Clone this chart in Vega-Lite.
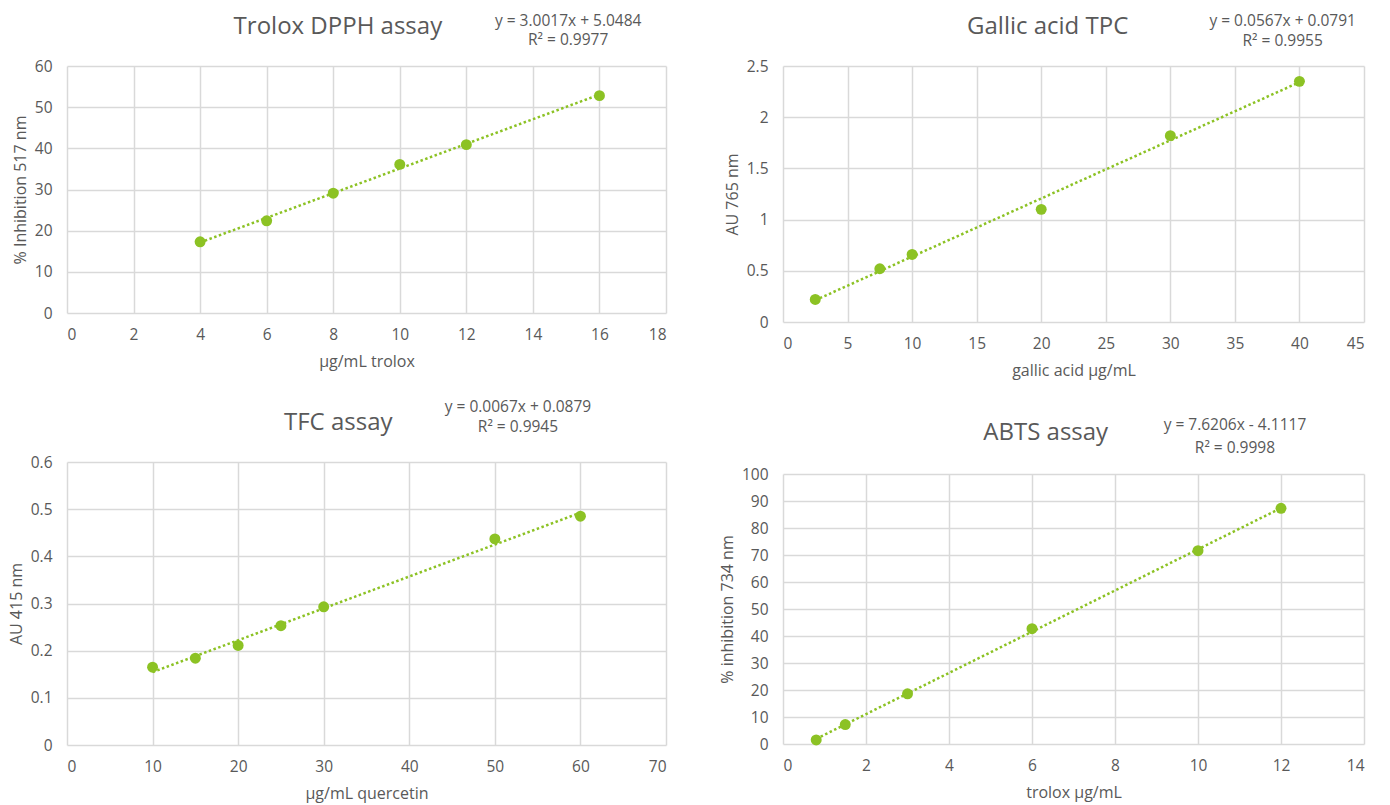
{
  "$schema": "https://vega.github.io/schema/vega-lite/v6.json",
  "background": "white",
  "padding": {"left": 8, "top": 13, "right": 5, "bottom": 5},
  "spacing": 53,
  "hconcat": [
    {
      "bounds": "flush",
      "spacing": 149,
      "vconcat": [
        {
          "width": 599, "height": 247,
          "data": {"values": [
            {"x": 4, "y": 17.3}, {"x": 6, "y": 22.4}, {"x": 8, "y": 29.1},
            {"x": 10, "y": 36.1}, {"x": 12, "y": 40.9}, {"x": 16, "y": 52.8}
          ]},
          "encoding": {
            "x": {"field": "x", "type": "quantitative", "scale": {"domain": [0, 18], "nice": false},
                  "axis": {"title": "µg/mL trolox", "values": [0,2,4,6,8,10,12,14,16,18]}},
            "y": {"field": "y", "type": "quantitative", "scale": {"domain": [0, 60], "nice": false},
                  "axis": {"title": "% Inhibition  517 nm", "values": [0,10,20,30,40,50,60]}}
          },
          "layer": [
            {"transform": [{"regression": "y", "on": "x"}],
             "mark": {"type": "line", "color": "#8CC224", "strokeWidth": 2.5, "strokeDash": [2.5, 2.5]}},
            {"mark": {"type": "point", "filled": true, "size": 120, "color": "#8CC224", "opacity": 1}},
            {"mark": {"type": "text", "fontSize": 24, "color": "#595959", "baseline": "middle"},
             "encoding": {"x": {"datum": 8.14, "type": "quantitative"}, "y": {"datum": 69.4, "type": "quantitative"},
                          "text": {"condition": {"test": "datum.x === 4", "value": "Trolox DPPH assay"}, "value": ""}}},
            {"mark": {"type": "text", "fontSize": 15.5, "color": "#595959", "baseline": "middle"},
             "encoding": {"x": {"datum": 15.06, "type": "quantitative"}, "y": {"datum": 71.0, "type": "quantitative"},
                          "text": {"condition": {"test": "datum.x === 4", "value": "y = 3.0017x + 5.0484"}, "value": ""}}},
            {"mark": {"type": "text", "fontSize": 15.5, "color": "#595959", "baseline": "middle"},
             "encoding": {"x": {"datum": 15.06, "type": "quantitative"}, "y": {"datum": 66.2, "type": "quantitative"},
                          "text": {"condition": {"test": "datum.x === 4", "value": "R² = 0.9977"}, "value": ""}}}
          ]
        },
        {
          "width": 599, "height": 283,
          "data": {"values": [
            {"x": 10, "y": 0.165}, {"x": 15, "y": 0.184}, {"x": 20, "y": 0.211},
            {"x": 25, "y": 0.253}, {"x": 30, "y": 0.293}, {"x": 50, "y": 0.437}, {"x": 60, "y": 0.485}
          ]},
          "encoding": {
            "x": {"field": "x", "type": "quantitative", "scale": {"domain": [0, 70], "nice": false},
                  "axis": {"title": "µg/mL quercetin", "values": [0,10,20,30,40,50,60,70]}},
            "y": {"field": "y", "type": "quantitative", "scale": {"domain": [0, 0.6], "nice": false},
                  "axis": {"title": "AU 415 nm", "values": [0,0.1,0.2,0.3,0.4,0.5,0.6]}}
          },
          "layer": [
            {"transform": [{"regression": "y", "on": "x"}],
             "mark": {"type": "line", "color": "#8CC224", "strokeWidth": 2.5, "strokeDash": [2.5, 2.5]}},
            {"mark": {"type": "point", "filled": true, "size": 120, "color": "#8CC224", "opacity": 1}},
            {"mark": {"type": "text", "fontSize": 24, "color": "#595959", "baseline": "middle"},
             "encoding": {"x": {"datum": 31.7, "type": "quantitative"}, "y": {"datum": 0.683, "type": "quantitative"},
                          "text": {"condition": {"test": "datum.x === 10", "value": "TFC assay"}, "value": ""}}},
            {"mark": {"type": "text", "fontSize": 15.5, "color": "#595959", "baseline": "middle"},
             "encoding": {"x": {"datum": 52.7, "type": "quantitative"}, "y": {"datum": 0.7165, "type": "quantitative"},
                          "text": {"condition": {"test": "datum.x === 10", "value": "y = 0.0067x + 0.0879"}, "value": ""}}},
            {"mark": {"type": "text", "fontSize": 15.5, "color": "#595959", "baseline": "middle"},
             "encoding": {"x": {"datum": 52.7, "type": "quantitative"}, "y": {"datum": 0.6735, "type": "quantitative"},
                          "text": {"condition": {"test": "datum.x === 10", "value": "R² = 0.9945"}, "value": ""}}}
          ]
        }
      ]
    },
    {
      "bounds": "flush",
      "spacing": 152,
      "vconcat": [
        {
          "width": 581, "height": 256,
          "data": {"values": [
            {"x": 2.5, "y": 0.22}, {"x": 7.5, "y": 0.52}, {"x": 10, "y": 0.66},
            {"x": 20, "y": 1.10}, {"x": 30, "y": 1.82}, {"x": 40, "y": 2.35}
          ]},
          "encoding": {
            "x": {"field": "x", "type": "quantitative", "scale": {"domain": [0, 45], "nice": false},
                  "axis": {"title": "gallic acid µg/mL", "values": [0,5,10,15,20,25,30,35,40,45]}},
            "y": {"field": "y", "type": "quantitative", "scale": {"domain": [0, 2.5], "nice": false},
                  "axis": {"title": "AU 765 nm", "values": [0,0.5,1,1.5,2,2.5]}}
          },
          "layer": [
            {"transform": [{"regression": "y", "on": "x"}],
             "mark": {"type": "line", "color": "#8CC224", "strokeWidth": 2.5, "strokeDash": [2.5, 2.5]}},
            {"mark": {"type": "point", "filled": true, "size": 120, "color": "#8CC224", "opacity": 1}},
            {"mark": {"type": "text", "fontSize": 24, "color": "#595959", "baseline": "middle"},
             "encoding": {"x": {"datum": 20.5, "type": "quantitative"}, "y": {"datum": 2.878, "type": "quantitative"},
                          "text": {"condition": {"test": "datum.x === 2.5", "value": "Gallic acid TPC"}, "value": ""}}},
            {"mark": {"type": "text", "fontSize": 15.5, "color": "#595959", "baseline": "middle"},
             "encoding": {"x": {"datum": 38.7, "type": "quantitative"}, "y": {"datum": 2.942, "type": "quantitative"},
                          "text": {"condition": {"test": "datum.x === 2.5", "value": "y = 0.0567x + 0.0791"}, "value": ""}}},
            {"mark": {"type": "text", "fontSize": 15.5, "color": "#595959", "baseline": "middle"},
             "encoding": {"x": {"datum": 38.7, "type": "quantitative"}, "y": {"datum": 2.746, "type": "quantitative"},
                          "text": {"condition": {"test": "datum.x === 2.5", "value": "R² = 0.9955"}, "value": ""}}}
          ]
        },
        {
          "width": 581, "height": 270,
          "data": {"values": [
            {"x": 0.8, "y": 1.5}, {"x": 1.5, "y": 7.2}, {"x": 3, "y": 18.6},
            {"x": 6, "y": 42.7}, {"x": 10, "y": 71.6}, {"x": 12, "y": 87.3}
          ]},
          "encoding": {
            "x": {"field": "x", "type": "quantitative", "scale": {"domain": [0, 14], "nice": false},
                  "axis": {"title": "trolox µg/mL", "values": [0,2,4,6,8,10,12,14]}},
            "y": {"field": "y", "type": "quantitative", "scale": {"domain": [0, 100], "nice": false},
                  "axis": {"title": "% inhibition  734 nm", "values": [0,10,20,30,40,50,60,70,80,90,100]}}
          },
          "layer": [
            {"transform": [{"regression": "y", "on": "x"}],
             "mark": {"type": "line", "color": "#8CC224", "strokeWidth": 2.5, "strokeDash": [2.5, 2.5]}},
            {"mark": {"type": "point", "filled": true, "size": 120, "color": "#8CC224", "opacity": 1}},
            {"mark": {"type": "text", "fontSize": 24, "color": "#595959", "baseline": "middle"},
             "encoding": {"x": {"datum": 6.33, "type": "quantitative"}, "y": {"datum": 115.2, "type": "quantitative"},
                          "text": {"condition": {"test": "datum.x === 0.8", "value": "ABTS assay"}, "value": ""}}},
            {"mark": {"type": "text", "fontSize": 15.5, "color": "#595959", "baseline": "middle"},
             "encoding": {"x": {"datum": 10.89, "type": "quantitative"}, "y": {"datum": 118.3, "type": "quantitative"},
                          "text": {"condition": {"test": "datum.x === 0.8", "value": "y = 7.6206x - 4.1117"}, "value": ""}}},
            {"mark": {"type": "text", "fontSize": 15.5, "color": "#595959", "baseline": "middle"},
             "encoding": {"x": {"datum": 10.89, "type": "quantitative"}, "y": {"datum": 109.8, "type": "quantitative"},
                          "text": {"condition": {"test": "datum.x === 0.8", "value": "R² = 0.9998"}, "value": ""}}}
          ]
        }
      ]
    }
  ],
  "config": {
    "font": "Open Sans",
    "view": {"stroke": null},
    "text": {"font": "Open Sans"},
    "axis": {
      "format": "~r",
      "grid": true, "gridColor": "#D9D9D9", "gridWidth": 1.5,
      "domain": false, "ticks": false,
      "labelFontSize": 15.5, "labelColor": "#595959", "labelFont": "Open Sans",
      "titleFontSize": 16, "titleColor": "#595959", "titleFontWeight": "normal", "titleFont": "Open Sans"
    },
    "axisX": {"labelPadding": 14, "titlePadding": 11},
    "axisY": {"labelPadding": 15, "titlePadding": 6}
  }
}
